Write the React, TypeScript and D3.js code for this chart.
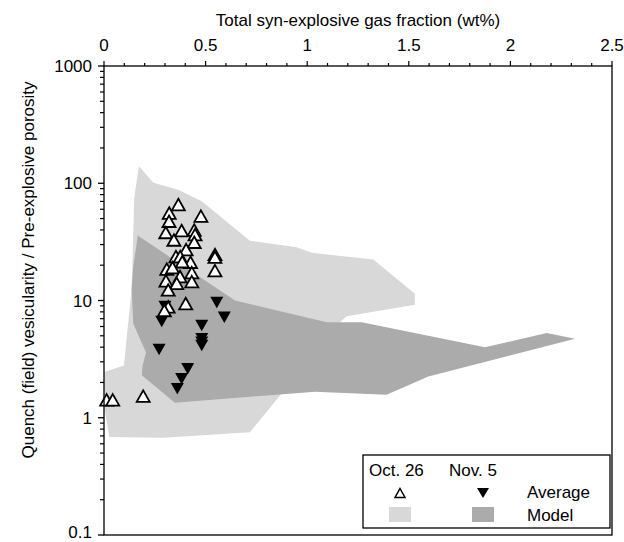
import React from "react";
import * as d3 from "d3";

const xTicks = [0, 0.5, 1, 1.5, 2, 2.5];
const xTickLabels = ["0", "0.5", "1", "1.5", "2", "2.5"];
const yTicks = [0.1, 1, 10, 100, 1000];
const yTickLabels = ["0.1", "1", "10", "100", "1000"];

// Model envelope, Oct. 26 (light)
const lightX = [0.172, 0.243, 0.366, 0.481, 0.718, 0.948, 1.022, 1.325, 1.53, 1.53, 1.194, 1.161, 1.15, 1.0, 0.866, 0.718, 0.292, 0.026, 0.0015, 0.0015, 0.098, 0.136, 0.149];
const lightY = [139.7, 100.8, 87.9, 70.3, 32.4, 28.4, 25.5, 22.4, 11.4, 9.19, 7.35, 6.53, 6.0, 3.0, 1.55, 0.753, 0.676, 0.684, 1.23, 2.45, 2.79, 12.6, 76];

// Model envelope, Nov. 5 (dark)
const darkX = [0.166, 0.645, 1.096, 1.268, 1.875, 2.179, 2.318, 1.596, 1.391, 1.038, 0.349, 0.186, 0.19, 0.207, 0.144, 0.136, 0.144];
const darkY = [35.8, 10, 6.53, 6.53, 4.0, 5.27, 4.71, 2.25, 1.57, 1.67, 1.34, 2.3, 2.79, 3.6, 6.33, 12.6, 19.2];

// Oct. 26 averages (open up-triangles)
const octX = [0.366, 0.321, 0.477, 0.32, 0.304, 0.382, 0.444, 0.448, 0.344, 0.444, 0.404, 0.354, 0.375, 0.546, 0.546, 0.426, 0.385, 0.309, 0.337, 0.546, 0.432, 0.374, 0.305, 0.358, 0.432, 0.316, 0.402, 0.316, 0.297, 0.013, 0.043, 0.193];
const octY = [65.8, 55.7, 52.4, 47.4, 38.0, 39.5, 39.9, 36.5, 32.8, 31.4, 27.2, 23.7, 23.7, 24.7, 23.4, 21.2, 21.4, 18.5, 19.1, 18.0, 17.3, 16.0, 14.7, 14.0, 14.5, 12.3, 9.42, 8.81, 8.22, 1.42, 1.42, 1.53];

// Nov. 5 averages (filled down-triangles)
const novX = [0.555, 0.592, 0.3, 0.284, 0.481, 0.481, 0.481, 0.481, 0.271, 0.412, 0.382, 0.361];
const novY = [9.62, 7.21, 8.9, 6.62, 6.12, 4.71, 4.4, 4.13, 3.82, 2.62, 2.15, 1.77];

const LIGHT = "#d8d8d8";
const DARK = "#ababab";
const FONT = "'Liberation Sans', Arial, sans-serif";
const FS = 17;

export default function App() {
  const W = 624, H = 542;
  const L = 104, R = 612, T = 66, B = 535;
  const x = d3.scaleLinear().domain([0, 2.5]).range([L, R]);
  const y = d3.scaleLog().domain([0.1, 1000]).range([B, T]);

  const line = d3.line<[number, number]>().x(d => x(d[0])).y(d => y(d[1]));
  const lightPath = line(lightX.map((v, i) => [v, lightY[i]] as [number, number])) + "Z";
  const darkPath = line(darkX.map((v, i) => [v, darkY[i]] as [number, number])) + "Z";

  const upTri = (cx: number, cy: number, w = 13, h = 11.5) =>
    `M${cx},${cy - h / 2}L${cx + w / 2},${cy + h / 2}L${cx - w / 2},${cy + h / 2}Z`;
  const downTri = (cx: number, cy: number, w = 13, h = 11.5) =>
    `M${cx - w / 2},${cy - h / 2}L${cx + w / 2},${cy - h / 2}L${cx},${cy + h / 2}Z`;

  const minorX = d3.range(0, 2.5001, 0.1);
  const minorY: number[] = [];
  for (let e = -1; e < 3; e++) {
    for (let k = 2; k <= 9; k++) minorY.push(k * Math.pow(10, e));
  }

  return (
    <svg width={W} height={H} style={{ position: "absolute", left: 0, top: 0, background: "#fff" }} fontFamily={FONT}>
      <path d={lightPath} fill={LIGHT} />
      <path d={darkPath} fill={DARK} />

      {novX.map((v, i) => (
        <path key={"n" + i} d={downTri(x(v), y(novY[i]))} fill="#000" />
      ))}
      {octX.map((v, i) => (
        <path key={"o" + i} d={upTri(x(v), y(octY[i]))} fill="#fff" stroke="#000" strokeWidth={1.8} strokeLinejoin="miter" />
      ))}

      {/* frame */}
      <rect x={L} y={T} width={R - L} height={B - T} fill="none" stroke="#000" strokeWidth={1.3} />

      {/* top axis */}
      {minorX.map((v, i) => (
        <line key={"mx" + i} x1={x(v)} x2={x(v)} y1={T} y2={T - (i % 5 === 0 ? 5 : 3)} stroke="#000" strokeWidth={1.2} />
      ))}
      {xTicks.map((v, i) => (
        <text key={"xt" + i} x={x(v)} y={51} fontSize={FS} textAnchor="middle">{xTickLabels[i]}</text>
      ))}
      <text x={358} y={26} fontSize={FS} textAnchor="middle">Total syn-explosive gas fraction (wt%)</text>

      {/* left axis */}
      {minorY.map((v, i) => (
        <line key={"my" + i} x1={L} x2={L - 4} y1={y(v)} y2={y(v)} stroke="#000" strokeWidth={1.2} />
      ))}
      {yTicks.map((v, i) => (
        <g key={"yt" + i}>
          <line x1={L} x2={L - 6} y1={y(v)} y2={y(v)} stroke="#000" strokeWidth={1.3} />
          <text x={92} y={Math.min(y(v) + 6, 537.5)} fontSize={FS} textAnchor="end">{yTickLabels[i]}</text>
        </g>
      ))}
      <text transform={`translate(34,270) rotate(-90)`} fontSize={FS} textAnchor="middle">
        Quench (field) vesicularity / Pre-explosive porosity
      </text>

      {/* legend */}
      <rect x={363} y={455} width={247} height={73} fill="#fff" stroke="#000" strokeWidth={1.3} />
      <text x={369} y={476} fontSize={FS}>Oct. 26</text>
      <text x={449} y={476} fontSize={FS}>Nov. 5</text>
      <path d={upTri(400, 493, 10, 9)} fill="#fff" stroke="#000" strokeWidth={1.5} />
      <path d={downTri(483, 493, 12, 10)} fill="#000" />
      <text x={527} y={498} fontSize={FS}>Average</text>
      <rect x={389} y={507} width={22} height={15} fill={LIGHT} />
      <rect x={472} y={507} width={22} height={15} fill={DARK} />
      <text x={527} y={521} fontSize={FS}>Model</text>
    </svg>
  );
}
